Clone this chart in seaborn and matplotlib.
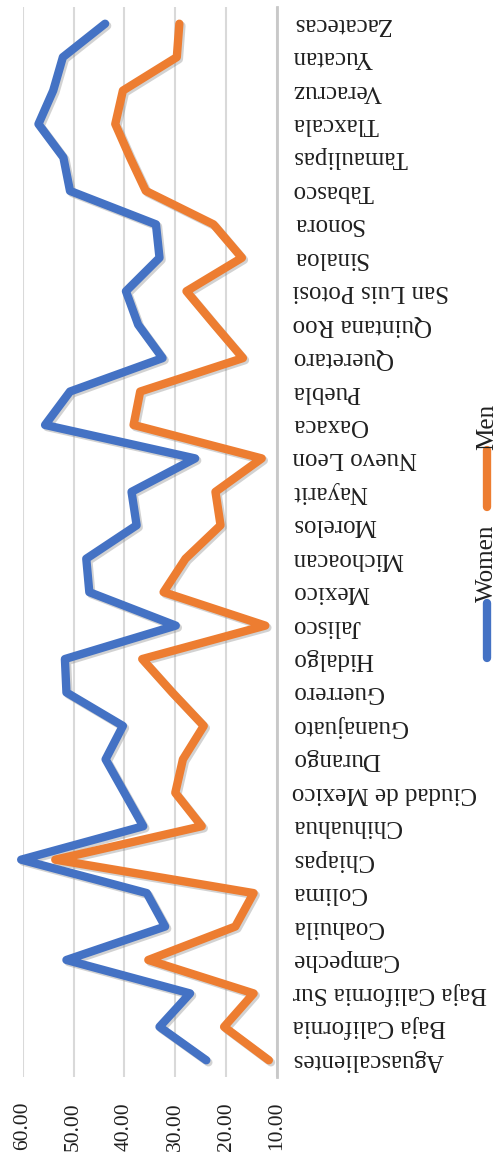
import matplotlib
matplotlib.use('Agg')
import matplotlib.pyplot as plt
import matplotlib.patheffects as pe
from matplotlib.lines import Line2D
import seaborn as sns
import pandas as pd
import numpy as np

# states from bottom to top of the (rotated) chart
states = ["Aguascalientes", "Baja California", "Baja California Sur", "Campeche",
          "Coahuila", "Colima", "Chiapas", "Chihuahua", "Ciudad de Mexico", "Durango",
          "Guanajuato", "Guerrero", "Hidalgo", "Jalisco", "Mexico", "Michoacan",
          "Morelos", "Nayarit", "Nuevo Leon", "Oaxaca", "Puebla", "Queretaro",
          "Quintana Roo", "San Luis Potosi", "Sinaloa", "Sonora", "Tabasco",
          "Tamaulipas", "Tlaxcala", "Veracruz", "Yucatan", "Zacatecas"]

women = [23.9, 33.1, 27.1, 51.4, 32.0, 35.6, 60.3, 36.3, 40.0, 43.7, 40.3, 51.4,
         51.7, 29.9, 46.9, 47.5, 37.6, 38.6, 26.1, 55.6, 50.7, 32.5, 37.3, 39.7,
         33.1, 33.8, 50.7, 52.0, 56.9, 54.0, 52.1, 43.8]

men = [11.6, 20.4, 14.6, 35.3, 18.2, 14.6, 53.6, 24.8, 30.0, 28.5, 24.4, 30.6,
       36.5, 12.3, 32.3, 28.0, 21.1, 22.1, 13.0, 38.2, 36.9, 16.7, 22.3, 27.8,
       16.9, 22.5, 35.8, 38.9, 41.8, 40.3, 29.7, 29.2]

xticks = [10, 20, 30, 40, 50, 60]

colores = {"Women": "#4472C4", "Men": "#ED7D31"}

sns.set_style("white")
plt.rcParams['font.family'] = ['Liberation Serif', 'DejaVu Serif']

pos = np.arange(len(states))
df = pd.concat([
    pd.DataFrame({"pos": pos, "valor": women, "sexo": "Women"}),
    pd.DataFrame({"pos": pos, "valor": men, "sexo": "Men"}),
])

W, H = 497, 1157
fig = plt.figure(figsize=(W / 100, H / 100), dpi=100)
ax = fig.add_axes([22.7 / W, 80 / H, (277 - 22.7) / W, 1070 / H])

sombra = [pe.SimpleLineShadow(offset=(1.5, -1.5), shadow_color='gray', alpha=0.35),
          pe.Normal()]
sns.lineplot(data=df, x="valor", y="pos", hue="sexo", hue_order=["Women", "Men"],
             palette=colores, orient="y", sort=True, legend=False, ax=ax,
             linewidth=6, solid_joinstyle='round', solid_capstyle='round',
             path_effects=sombra, clip_on=False)

ax.set_xlim(60, 10)
ax.set_ylim(-0.5, len(states) - 0.5)
ax.set_xlabel("")
ax.set_ylabel("")

# grid vertical (era o eixo y no original)
ax.set_xticks(xticks)
ax.set_xticklabels([f"{v:.2f}" for v in xticks], rotation=90, fontsize=15.5,
                   color='#202020')
ax.grid(axis='x', color='#D9D9D9', linewidth=1.5)
ax.set_axisbelow(True)
ax.tick_params(axis='x', length=0, pad=18)

ax.yaxis.tick_right()
ax.set_yticks(pos)
ax.set_yticklabels(states, rotation=180, fontsize=18, color='#202020',
                   ha='left', va='center')
ax.tick_params(axis='y', length=0, pad=11)

for lado in ['top', 'bottom', 'left']:
    ax.spines[lado].set_visible(False)
ax.spines['right'].set_color('#C8C8C8')
ax.spines['right'].set_linewidth(2)

# legenda (rotacionada junto com o grafico)
lx = 487 / W
fig.add_artist(Line2D([lx, lx], [1 - 450 / H, 1 - 507 / H], transform=fig.transFigure,
                      color=colores["Men"], lw=6, solid_capstyle='round'))
fig.add_artist(Line2D([lx, lx], [1 - 603 / H, 1 - 658 / H], transform=fig.transFigure,
                      color=colores["Women"], lw=6, solid_capstyle='round'))
fig.text(lx, 1 - 427 / H, "Men", rotation=90, ha='center', va='center',
         fontsize=18, color='#202020')
fig.text(lx, 1 - 563 / H, "Women", rotation=90, ha='center', va='center',
         fontsize=18, color='#202020')

fig.savefig("out.png", dpi=100)
